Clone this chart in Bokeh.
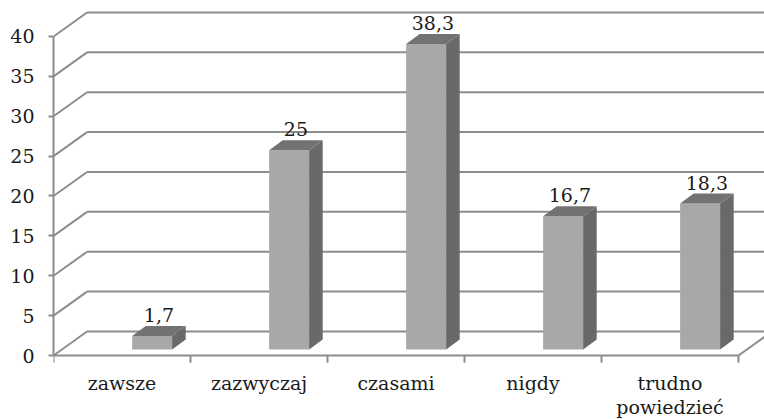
from bokeh.plotting import figure
from bokeh.models import Range1d, LinearAxis, FixedTicker
from bokeh.core.properties import value
from bokeh.embed import file_html
from bokeh.resources import INLINE

# ---- data ----
categories = ["zawsze", "zazwyczaj", "czasami", "nigdy", "trudno\npowiedzieć"]
values = [1.7, 25, 38.3, 16.7, 18.3]
y_ticks = [0, 5, 10, 15, 20, 25, 30, 35, 40]

# ---- style / geometry constants (3D look) ----
FONT = "DejaVu Serif"
FS = "19px"
GRID = "#8c8c8c"
FRONT = "#a6a8aa"
SIDE = "#67696b"
TOP = "#707274"
DX, DY = 0.245, 3.01        # back-wall depth offset (x in category units, y in value units)
SX, SY = 0.22, 0.75         # bar placement inside depth
BW = 0.292                  # bar front width
BDX, BDY = 0.099, 1.25      # bar depth
n = len(categories)
x_max = 5.1898

p = figure(width=764, height=419, x_range=Range1d(0, x_max), y_range=Range1d(-8.025, 44.514),
           output_backend="svg", toolbar_location=None,
           x_axis_location=None, y_axis_location=None,
           min_border_left=53, min_border_right=0, min_border_top=0, min_border_bottom=0)
p.outline_line_color = None
p.xgrid.visible = False
p.ygrid.visible = False
p.background_fill_color = "white"
p.border_fill_color = "white"

# y axis
yax = LinearAxis(ticker=FixedTicker(ticks=y_ticks, minor_ticks=[]), bounds=(0, max(y_ticks)))
yax.axis_line_color = GRID
yax.axis_line_width = 2
yax.major_tick_line_color = GRID
yax.major_tick_line_width = 2
yax.major_tick_out = 5
yax.major_tick_in = 0
yax.minor_tick_line_color = None
yax.major_label_standoff = 14
yax.major_label_text_font = FONT
yax.major_label_text_font_size = FS
yax.major_label_text_color = "#1a1a1a"
p.add_layout(yax, "left")

# back-wall gridlines and diagonals
p.segment(x0=[DX] * len(y_ticks), y0=[t + DY for t in y_ticks],
          x1=[x_max + 0.2] * len(y_ticks), y1=[t + DY for t in y_ticks],
          line_color=GRID, line_width=2)
p.segment(x0=[0] * len(y_ticks), y0=y_ticks, x1=[DX] * len(y_ticks), y1=[t + DY for t in y_ticks],
          line_color=GRID, line_width=2)
# floor front edge and right edge
p.segment(x0=[0, n], y0=[0, 0], x1=[n, n + DX], y1=[0, DY], line_color=GRID, line_width=2)
# category boundary ticks
p.segment(x0=list(range(n + 1)), y0=[0] * (n + 1), x1=list(range(n + 1)), y1=[-0.9] * (n + 1),
          line_color=GRID, line_width=2)

# bars
centers = [i + 0.5 for i in range(n)]
xl = [c + SX - BW / 2 for c in centers]
xr = [c + SX + BW / 2 for c in centers]
p.quad(left=xl, right=xr, bottom=[SY] * n, top=[v + SY for v in values],
       fill_color=FRONT, line_color=None)
side_xs = [[r, r + BDX, r + BDX, r] for r in xr]
side_ys = [[SY, SY + BDY, v + SY + BDY, v + SY] for v in values]
p.patches(xs=side_xs, ys=side_ys, fill_color=SIDE, line_color=None)
top_xs = [[l, l + BDX, r + BDX, r] for l, r in zip(xl, xr)]
top_ys = [[v + SY, v + SY + BDY, v + SY + BDY, v + SY] for v in values]
p.patches(xs=top_xs, ys=top_ys, fill_color=TOP, line_color=None)

# value labels
labels = [("%g" % v).replace(".", ",") for v in values]
p.text(x=[c + SX + BDX / 2 for c in centers], y=[v + SY + BDY for v in values], text=labels,
       text_font=value(FONT), text_font_size=FS, text_color="#1a1a1a",
       text_align="center", text_baseline="bottom", y_offset=-4)

# category labels
p.text(x=centers, y=[0] * n, text=categories,
       text_font=value(FONT), text_font_size=FS, text_color="#1a1a1a",
       text_align="center", text_baseline="top", y_offset=16, text_line_height=1.1)

open("out.html", "w").write(file_html(p, INLINE))
